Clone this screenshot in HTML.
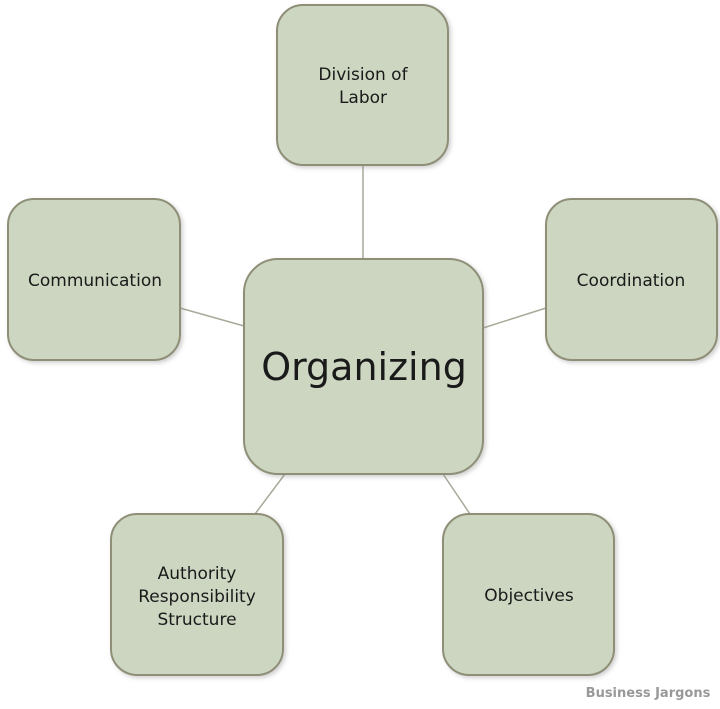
<!DOCTYPE html>
<html><head><style>
html,body{margin:0;padding:0;background:#fff;width:720px;height:709px;overflow:hidden}
svg text{font-family:"DejaVu Sans","Liberation Sans",sans-serif;fill:#1a1a1a;text-anchor:middle}
</style></head><body>
<svg width="720" height="709" viewBox="0 0 720 709">
<defs><filter id="s" x="-10%" y="-10%" width="130%" height="130%"><feDropShadow dx="2" dy="2" stdDeviation="2" flood-color="#888" flood-opacity="0.4"/></filter></defs>
<g stroke="#a9a99a" stroke-width="1.5">
<line x1="363" y1="165" x2="363" y2="259"/>
<line x1="180" y1="308" x2="244" y2="326"/>
<line x1="546" y1="308" x2="483" y2="328"/>
<line x1="285" y1="474" x2="255" y2="514"/>
<line x1="443" y1="474" x2="470" y2="514"/>
</g>
<g fill="#ccd6c0" stroke="#8f8f78" stroke-width="2" filter="url(#s)">
<rect x="277" y="5" width="171" height="160" rx="26"/>
<rect x="8" y="199" width="172" height="161" rx="26"/>
<rect x="546" y="199" width="171" height="161" rx="26"/>
<rect x="244" y="259" width="239" height="215" rx="34"/>
<rect x="111" y="514" width="172" height="161" rx="26"/>
<rect x="443" y="514" width="171" height="161" rx="26"/>
</g>
<g font-size="17">
<text x="363" y="80">Division of</text>
<text x="363" y="103">Labor</text>
<text x="95" y="286">Communication</text>
<text x="631" y="286">Coordination</text>
<text x="197" y="579">Authority</text>
<text x="197" y="602">Responsibility</text>
<text x="197" y="625">Structure</text>
<text x="529" y="601">Objectives</text>
</g>
<text x="364" y="380" font-size="38">Organizing</text>
<text x="648" y="697" font-size="13" style="fill:#999;font-weight:bold">Business Jargons</text>
</svg>
</body></html>
